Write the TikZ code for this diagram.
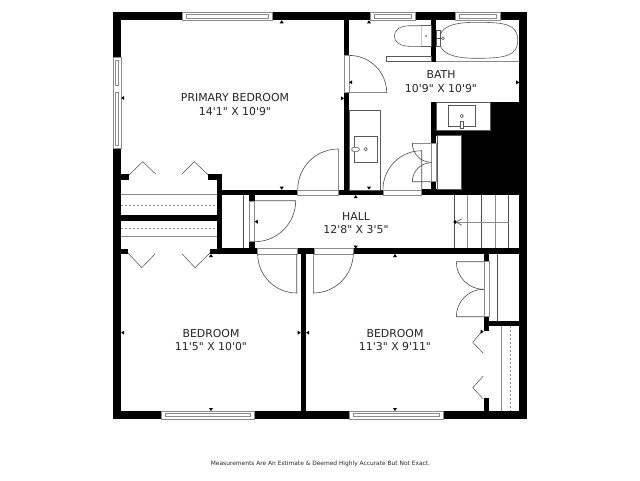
\documentclass[tikz,border=0pt]{standalone}
\usepackage{xcolor}
\usepackage{fontspec}
\setmainfont{DejaVu Sans}
\newfontfamily\roomfont{DejaVu Sans}
\usetikzlibrary{positioning}

\begin{document}
\begin{tikzpicture}[
    x=1pt, y=-1pt,
    wall/.style={fill=black, draw=none},
    jamb/.style={draw=black!45, fill=white, line width=0.6pt},
    fixture/.style={draw=black!65, fill=white, line width=0.6pt},
    leaf/.style={draw=black!70, line width=0.6pt},
    bifold/.style={draw=black!70, line width=0.5pt},
    shelf/.style={draw=black!45, line width=0.7pt},
    rail/.style={draw=black!45, line width=0.6pt, dashed, dash pattern=on 2pt off 2pt},
    room/.style={font=\roomfont\fontsize{10.9}{13.3}\selectfont, align=center, text=black!85, inner sep=0pt},
    wallmark/.style={fill=black, draw=none}
]
    \useasboundingbox (0,0) rectangle (640,480);
    \fill[white] (0,0) rectangle (640,480);

    % Outer walls
    \fill[wall] (113,12.3) rectangle (527.3,20.3);
    \fill[wall] (113,411) rectangle (527.3,419);
    \fill[wall] (113,12.3) rectangle (121,419);
    \fill[wall] (519.3,12.3) rectangle (527.3,419);

    % Windows
    \foreach \xa/\xb in {182/272, 370/415, 455/500} {
        \draw[jamb] (\xa,12.3) rectangle (\xb,20.3);
        \draw[jamb] (\xa+4,14.7) rectangle (\xb-4,18);
    }
    \foreach \xa/\xb in {161/254.3, 349.3/443.3} {
        \draw[jamb] (\xa,411) rectangle (\xb,419);
        \draw[jamb] (\xa+4,413.5) rectangle (\xb-4,416.7);
    }
    \draw[jamb] (113,57.3) rectangle (121,148.3);
    \draw[jamb] (115.5,60) rectangle (118.7,85);
    \draw[jamb] (115.5,92) rectangle (118.7,145);

    % Inner walls
    \fill[wall] (344,20) rectangle (349.3,55);
    \fill[wall] (344,92.3) rectangle (349.3,195);
    \fill[wall] (216.7,174.3) rectangle (221.7,254);
    \fill[wall] (221.7,190) rectangle (297.7,195);
    \fill[wall] (338.3,190) rectangle (383,195);
    \fill[wall] (421.7,189.3) rectangle (527,195);
    \fill[wall] (431,20) rectangle (436,61.7);
    \fill[wall] (121,215) rectangle (216.7,220.7);
    \fill[wall] (216.7,248.3) rectangle (257.7,254);
    \fill[wall] (297,248.3) rectangle (314.3,254);
    \fill[wall] (353.3,248.3) rectangle (519.3,254);
    \fill[wall] (300.7,254) rectangle (306,411);
    \fill[wall] (249.3,195) rectangle (254.7,201);
    \fill[wall] (249.3,241.7) rectangle (254.7,249);

    % Closet stubs
    \fill[wall] (121,174.3) rectangle (129,180);
    \fill[wall] (208.3,174.3) rectangle (216.7,180);
    \fill[wall] (121,249) rectangle (128.3,254);
    \fill[wall] (210,249) rectangle (216.7,254);
    \fill[wall] (484,254) rectangle (489.3,261.7);
    \fill[wall] (484,316.7) rectangle (489.3,331);
    \fill[wall] (484,398.3) rectangle (489.3,411);
    \fill[wall] (484,320.7) rectangle (519.3,326);

    % Black block behind the bath
    \fill[wall] (431,102.3) rectangle (436,143.3);
    \fill[wall] (431,181.7) rectangle (436,190);
    \fill[wall] (490,102.3) rectangle (527,130);
    \fill[wall] (431,130) rectangle (527,135.7);
    \fill[wall] (461.7,135.7) rectangle (527,190);
    \draw[fixture] (437.3,135.7) rectangle (461.7,189.3);

    % Door jambs
    \draw[jamb] (344,55) rectangle (349.3,92.3);
    \draw[jamb] (297.7,190) rectangle (338.3,195);
    \draw[jamb] (383,190) rectangle (421.7,195);
    \draw[jamb] (431.3,143.3) rectangle (436,181.7);
    \draw[jamb] (249.3,201) rectangle (254.7,241.7);
    \draw[jamb] (257.7,248.3) rectangle (297,254);
    \draw[jamb] (314.3,248.3) rectangle (353.3,254);
    \draw[jamb] (484,261.7) rectangle (489.3,316.7);

    % Doors
    \draw[leaf] (386.7,92.4) -- (349.3,92.4) (349.3,55.4) arc[start angle=-90, end angle=0, radius=37.4];
    \draw[leaf] (338.3,190) -- (338.3,149) arc[start angle=-90, end angle=-180, radius=40.6];
    \draw[leaf] (421.7,190) -- (421.7,150.7) arc[start angle=-90, end angle=-180, radius=38.7];
    \draw[leaf] (254.7,200.7) -- (295.7,200.7) arc[start angle=0, end angle=90, radius=41];
    \draw[leaf] (296.7,254) -- (296.7,293) arc[start angle=90, end angle=180, radius=39];
    \draw[leaf] (313.3,254) -- (313.3,293) arc[start angle=90, end angle=0, radius=40];
    \draw[leaf] (484,261.7) -- (456.3,261.7) arc[start angle=180, end angle=90, radius=27.7];
    \draw[leaf] (484,316.7) -- (456.3,316.7) arc[start angle=180, end angle=270, radius=27.5];
    \draw[leaf] (431.3,143.3) -- (412.3,143.3) arc[start angle=180, end angle=90, radius=19];
    \draw[leaf] (431.3,181.7) -- (412.3,181.7) arc[start angle=180, end angle=270, radius=19];

    % Bifold closet doors
    \draw[bifold] (129,175) -- (142.7,161.7) -- (156,174.3);
    \draw[bifold] (181.7,174.3) -- (194.3,161.7) -- (208.3,175);
    \draw[bifold] (128,253) -- (141.7,267.7) -- (155,254);
    \draw[bifold] (182.3,254) -- (195,267.7) -- (210,253);
    \draw[bifold] (481.7,331.7) -- (472.7,342.3) -- (483.3,353.3);
    \draw[bifold] (483.3,376) -- (472.7,387.7) -- (483.3,399);

    % Closet shelves
    \draw[shelf] (121,194.3) -- (216.7,194.3);
    \draw[shelf] (121,236.7) -- (216.7,236.7);
    \draw[rail] (121,205) -- (216.7,205);
    \draw[rail] (121,228.3) -- (216.7,228.3);
    \draw[shelf] (501.7,326) -- (501.7,411);
    \draw[rail] (510.7,326) -- (510.7,411);
    \draw[leaf] (497.3,254) -- (497.3,320.7);
    \draw[leaf] (243.3,195) -- (243.3,248.3);

    % Bath fixtures
    \draw[fixture] (349.3,110.3) rectangle (380.5,190);
    \draw[fixture] (354.3,136) rectangle (377.7,162.3);
    \draw[fixture] (365.7,149.3) circle (1.7);
    \draw[fixture, rounded corners=1.5] (351.7,147.3) rectangle (359.3,151.3);
    \draw[fixture] (436,102.3) rectangle (490,130);
    \draw[fixture] (448.3,105) rectangle (475,126.7);
    \draw[fixture] (461.7,116) circle (1.7);
    \draw[fixture] (460.3,121) rectangle (463.7,128.3);
    \draw[fixture] (386.3,56) rectangle (431,61.7);
    \draw[fixture] (421.7,25.7) rectangle (431,46.3);
    \draw[fixture] (421.7,25.7) -- (410,25.7) .. controls (400,25.7) and (394.3,30) .. (394.3,36) .. controls (394.3,42) and (400,46.3) .. (410,46.3) -- (421.7,46.3);
    \fill[black!60] (426,36) circle (1);
    \draw[shelf] (436,61.7) -- (519.3,61.7);
    \draw[fixture] (439.3,40.3) .. controls (439.3,28) and (450,22.3) .. (476,22.3) .. controls (505,22.3) and (517.7,24) .. (517.7,40.3) .. controls (517.7,56) and (505,58.3) .. (476,58.3) .. controls (450,58.3) and (439.3,52) .. (439.3,40.3);
    \draw[fixture] (436,30) rectangle (440,46.7);
    \draw[fixture] (443,38.3) circle (1.5);
    \draw[leaf] (436,38.3) -- (441.5,38.3);

    % Stairs
    \foreach \x in {454.3, 481.3, 508.7} {
        \draw[leaf] (\x,195) -- (\x,248.3);
    }
    \foreach \x in {467.7, 495} {
        \draw[shelf] (\x,195) -- (\x,248.3);
    }
    \draw[shelf] (454.3,222) -- (508.7,222);
    \draw[leaf] (462,218.7) -- (456,222) -- (462,225.3);

    % Wall marks
    \foreach \x/\y/\a in {281.7/22/0, 369/22/0, 355.7/196.8/0, 395/255.8/0, 211/255.8/0,
        281.7/188/180, 369/188/180, 355.7/247/180, 211/409.3/180, 395/409.3/180,
        122.8/98/90, 350.8/82.3/90, 256.5/221.7/90, 122.8/332.7/90, 307.8/332.7/90, 454.8/222/90,
        342.3/98.3/-90, 517.5/82.3/-90, 299/332.7/-90, 482/331.7/-90} {
        \fill[wallmark, shift={(\x,\y)}, rotate=\a] (-2,1.3) -- (2,1.3) -- (0,-1.7) -- cycle;
    }

    % Room labels
    \node[room] (primary) at (235,104.5) {PRIMARY BEDROOM\\14'1" X 10'9"};
    \node[room] (bath) at (441,81.5) {BATH\\10'9" X 10'9"};
    \node[room] (hall) at (356,223) {HALL\\12'8" X 3'5"};
    \node[room] (bedroomleft) at (211,340) {BEDROOM\\11'5" X 10'0"};
    \node[room] (bedroomright) at (395,340) {BEDROOM\\11'3" X 9'11"};

    % Footer
    \node[font=\fontsize{5.9}{7}\selectfont, text=black!85, inner sep=0pt] (footer) at (320.5,464) {Measurements Are An Estimate \& Deemed Highly Accurate But Not Exact.};
\end{tikzpicture}
\end{document}
